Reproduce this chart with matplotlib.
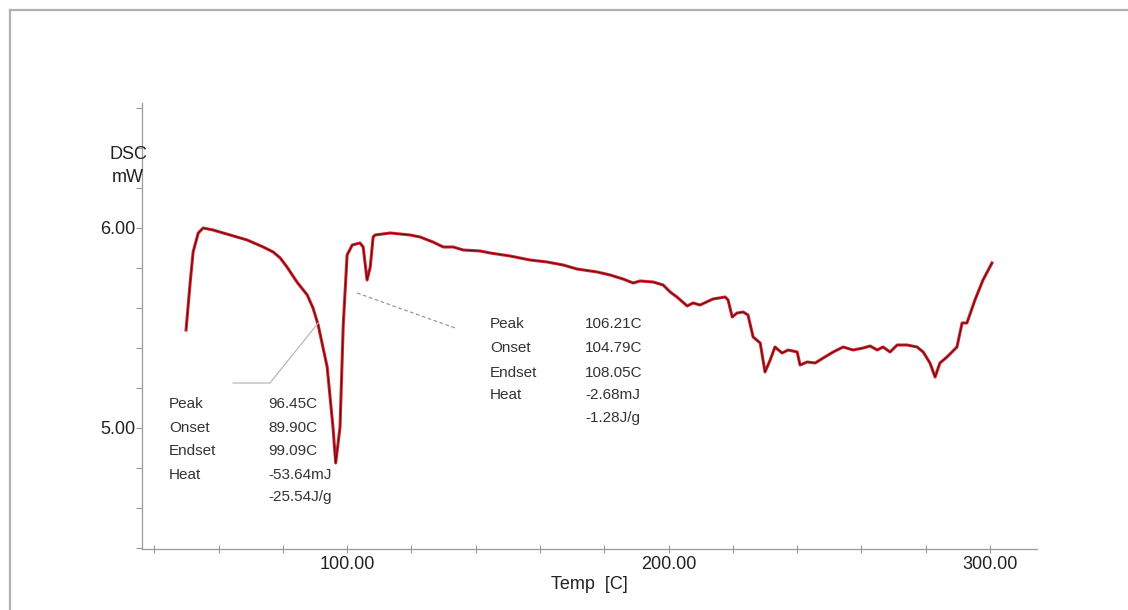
import matplotlib.pyplot as plt
from matplotlib.ticker import FixedLocator, FuncFormatter
from matplotlib.lines import Line2D

# DSC curve: temperature (C) and heat flow (mW)
temp = [49.9, 51.2, 52.1, 53.7, 55.2, 58.3, 63.6, 68.9, 73.9, 77.0, 79.2, 81.3,
        84.4, 87.6, 89.4, 91.0, 93.8, 95.6, 96.45, 97.8, 98.8, 100.0, 101.6, 104.0,
        105.0, 106.21, 107.2, 108.1, 108.7, 113.4, 119.6, 122.7, 126.7, 129.9, 133.0,
        136.1, 141.4, 144.5, 150.7, 156.9, 162.2, 167.2, 171.5, 177.8, 181.8, 185.8,
        189.0, 191.1, 195.2, 198.3, 200.5, 202.6, 205.8, 207.6, 209.8, 213.8, 217.6,
        218.5, 219.8, 221.3, 223.2, 224.7, 226.3, 228.5, 230.0, 231.6, 233.1, 235.3,
        237.2, 240.0, 240.9, 243.1, 245.6, 248.1, 251.2, 254.3, 257.4, 260.5, 262.7,
        264.9, 266.7, 268.9, 271.1, 274.2, 277.3, 279.2, 281.3, 282.9, 284.4, 286.6,
        289.7, 291.3, 292.8, 295.3, 297.8, 300.6]
dsc = [5.49, 5.73, 5.88, 5.975, 6.00, 5.99, 5.965, 5.94, 5.905, 5.88, 5.85, 5.805,
       5.73, 5.665, 5.60, 5.515, 5.305, 5.005, 4.825, 5.005, 5.515, 5.865, 5.915, 5.925,
       5.905, 5.74, 5.805, 5.955, 5.965, 5.975, 5.965, 5.955, 5.93, 5.905, 5.905,
       5.89, 5.885, 5.875, 5.86, 5.84, 5.83, 5.815, 5.795, 5.78, 5.765, 5.745,
       5.725, 5.735, 5.73, 5.715, 5.68, 5.655, 5.61, 5.625, 5.615, 5.645, 5.655,
       5.64, 5.555, 5.575, 5.58, 5.565, 5.455, 5.425, 5.28, 5.34, 5.405, 5.375,
       5.39, 5.38, 5.315, 5.33, 5.325, 5.35, 5.38, 5.405, 5.39, 5.40, 5.41,
       5.39, 5.405, 5.38, 5.415, 5.415, 5.405, 5.38, 5.325, 5.255, 5.325, 5.355,
       5.405, 5.525, 5.525, 5.64, 5.74, 5.825]

# leader lines for the two peak annotations
lead1_t = [64.5, 76.0, 91.0]
lead1_d = [5.225, 5.225, 5.525]
lead2_t = [103.1, 133.6]
lead2_d = [5.675, 5.50]

labels = ['Peak', 'Onset', 'Endset', 'Heat', '']
peak1_vals = ['96.45C', '89.90C', '99.09C', '-53.64mJ', '-25.54J/g']
peak2_vals = ['106.21C', '104.79C', '108.05C', '-2.68mJ', '-1.28J/g']

x_ticks = list(range(40, 301, 20))
y_ticks = [4.4, 4.6, 4.8, 5.0, 5.2, 5.4, 5.6, 5.8, 6.0, 6.2, 6.4, 6.6]

plt.rcParams['font.family'] = ['Liberation Sans', 'DejaVu Sans']

fig = plt.figure(figsize=(11.28, 6.10), dpi=100)
ax = fig.add_axes([142 / 1128, 1 - 549 / 610, (1037 - 142) / 1128, (549 - 103) / 610])

# page frame lines (top and left)
fig.add_artist(Line2D([10 / 1128, 1], [1 - 10 / 610, 1 - 10 / 610],
                      transform=fig.transFigure, color='#b0b0b0', lw=1.6))
fig.add_artist(Line2D([10 / 1128, 10 / 1128], [0, 1 - 10 / 610],
                      transform=fig.transFigure, color='#b0b0b0', lw=1.6))

ax.plot(temp, dsc, color='#e3202c', lw=2.2, solid_joinstyle='round')
ax.plot(temp, dsc, color='#5a1216', lw=0.8, solid_joinstyle='round')

ax.plot(lead1_t, lead1_d, color='#b8b8b8', lw=0.9)
ax.plot(lead2_t, lead2_d, color='#9a9a9a', lw=0.9, ls=(0, (3, 2)))

ax.set_xlim(36.2, 314.6)
ax.set_ylim(4.395, 6.625)

for s in ['top', 'right']:
    ax.spines[s].set_visible(False)
for s in ['left', 'bottom']:
    ax.spines[s].set_color('#9a9a9a')
    ax.spines[s].set_linewidth(0.9)

ax.xaxis.set_major_locator(FixedLocator(x_ticks))
ax.xaxis.set_major_formatter(FuncFormatter(lambda v, p: f'{v:.2f}' if v % 100 == 0 else ''))
ax.yaxis.set_major_locator(FixedLocator(y_ticks))
ax.yaxis.set_major_formatter(FuncFormatter(lambda v, p: f'{v:.2f}' if abs(v - round(v)) < 1e-6 else ''))
ax.tick_params(axis='x', direction='inout', length=6, width=0.8, color='#9a9a9a',
               labelsize=13, labelcolor='#222222', pad=2)
ax.tick_params(axis='y', direction='out', length=4, width=0.8, color='#9a9a9a',
               labelsize=13, labelcolor='#222222', pad=1)

ax.set_xlabel('Temp  [C]', fontsize=13, color='#222222', labelpad=2)
fig.text(128 / 1128, 1 - 166 / 610, 'DSC\nmW', ha='center', va='center',
         fontsize=13, color='#222222', linespacing=1.4)

# annotation blocks
row_d1 = [5.12, 5.0, 4.885, 4.765, 4.655]
for lab, val, d in zip(labels, peak1_vals, row_d1):
    ax.text(44.6, d, lab, fontsize=11, color='#333333', va='center')
    ax.text(75.4, d, val, fontsize=11, color='#333333', va='center')

row_d2 = [5.52, 5.40, 5.275, 5.165, 5.05]
for lab, val, d in zip(labels, peak2_vals, row_d2):
    ax.text(144.5, d, lab, fontsize=11, color='#333333', va='center')
    ax.text(174.0, d, val, fontsize=11, color='#333333', va='center')

fig.savefig('out.png', dpi=100)
